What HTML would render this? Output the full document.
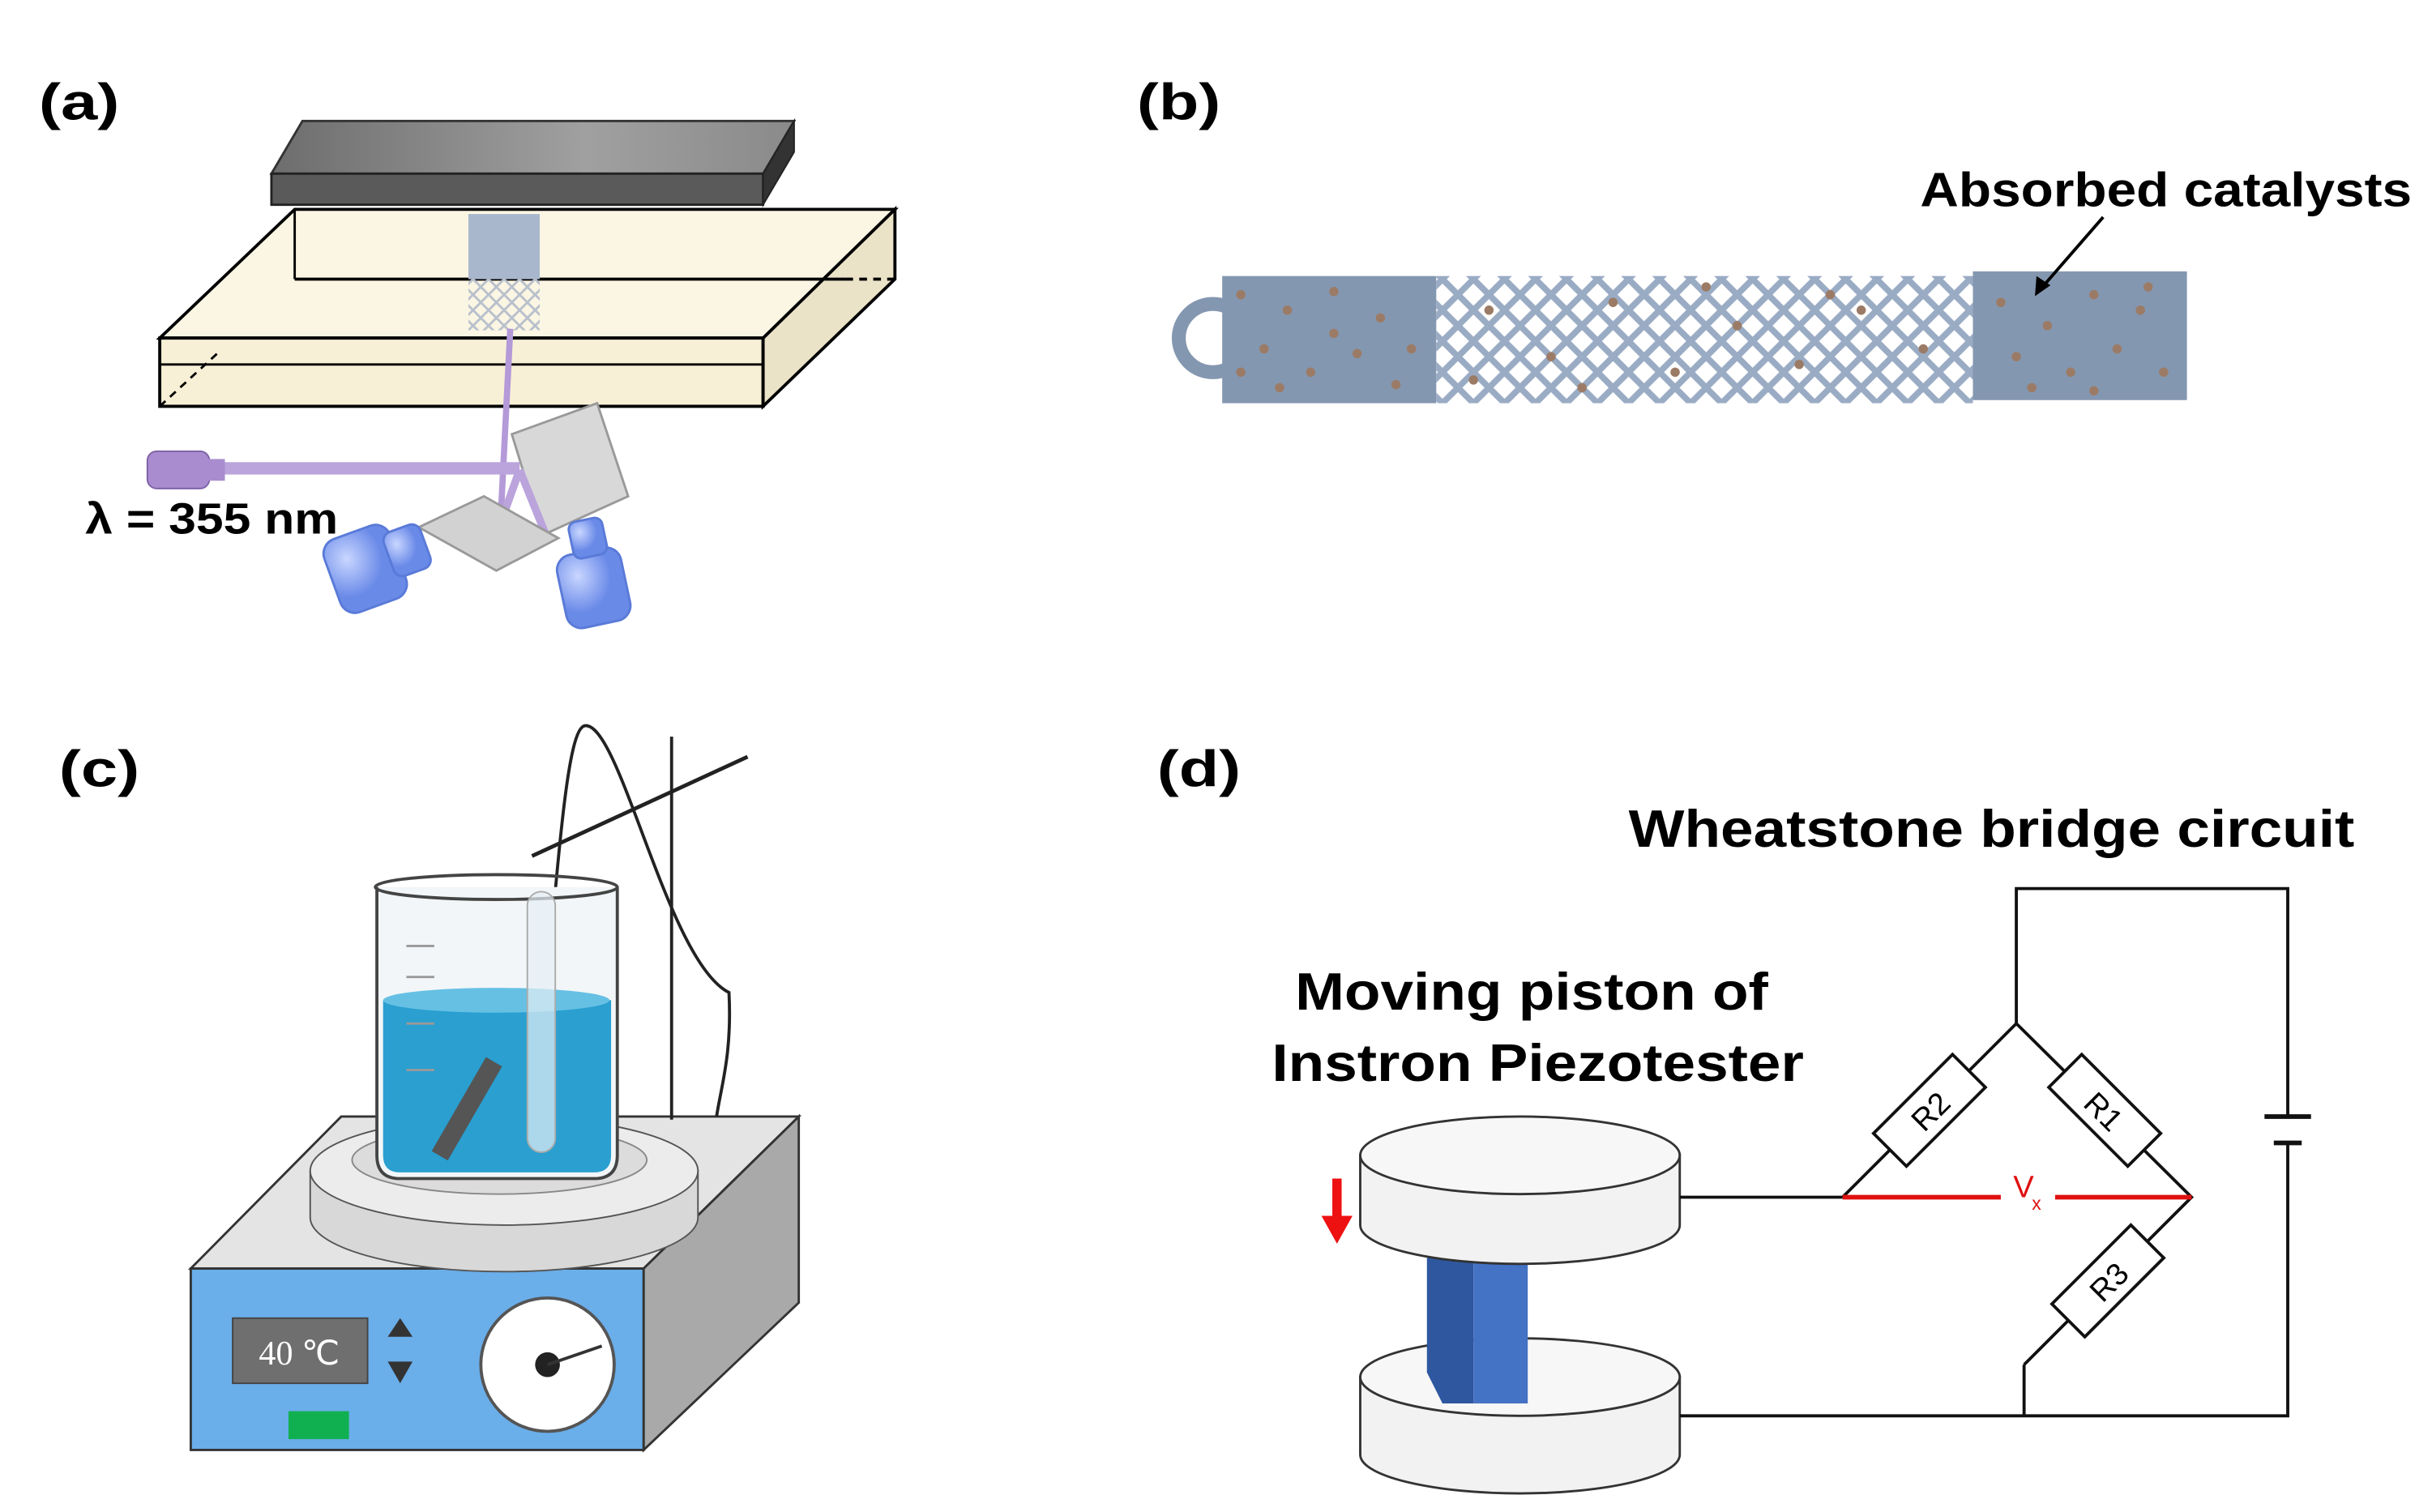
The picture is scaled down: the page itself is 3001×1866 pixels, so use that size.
<!DOCTYPE html>
<html><head><meta charset="utf-8"><style>
html,body{margin:0;padding:0;background:#fff}
svg{display:block}
text{font-family:"Liberation Sans",sans-serif;font-weight:bold}
</style></head><body>
<svg width="3001" height="1866" viewBox="0 0 1568 975" preserveAspectRatio="none" xmlns="http://www.w3.org/2000/svg">
<defs>
<linearGradient id="pg" x1="0" x2="1"><stop offset="0" stop-color="#6d6d6d"/><stop offset="0.6" stop-color="#a0a0a0"/><stop offset="1" stop-color="#8a8a8a"/></linearGradient>
<pattern id="mesh" width="20" height="20" patternUnits="userSpaceOnUse">
<path d="M0 10 L10 0 L20 10 L10 20 Z" fill="none" stroke="#9aabc4" stroke-width="4"/></pattern>
<pattern id="mesh2" width="10" height="10" patternUnits="userSpaceOnUse">
<path d="M0 5 L5 0 L10 5 L5 10 Z" fill="none" stroke="#b8c0cc" stroke-width="1.5"/></pattern>
<radialGradient id="bl" cx="0.3" cy="0.3"><stop offset="0" stop-color="#c9d6ff"/><stop offset="1" stop-color="#6a8ae8"/></radialGradient>
</defs>
<!-- (a) -->
<text x="25" y="77" font-size="33" textLength="52" lengthAdjust="spacingAndGlyphs">(a)</text>
<polygon points="103,218 190,135 577,135 492,218" fill="#fbf6e3" stroke="#000" stroke-width="2"/>
<polygon points="103,218 492,218 492,262 103,262" fill="#f8f0d6" stroke="#000" stroke-width="2"/>
<polygon points="492,218 577,135 577,180 492,262" fill="#ebe3c8" stroke="#000" stroke-width="2"/>
<line x1="190" y1="180" x2="545" y2="180" stroke="#000" stroke-width="2"/>
<line x1="545" y1="180" x2="577" y2="180" stroke="#000" stroke-width="2" stroke-dasharray="5,4"/>
<line x1="103" y1="235" x2="492" y2="235" stroke="#000" stroke-width="1.5"/>
<line x1="103" y1="262" x2="140" y2="228" stroke="#000" stroke-width="1.5" stroke-dasharray="5,4"/>
<line x1="190" y1="135" x2="190" y2="180" stroke="#000" stroke-width="1.5"/>
<rect x="302" y="138" width="46" height="42" fill="#a9b7cc"/>
<rect x="302" y="180" width="46" height="33" fill="url(#mesh2)"/>
<polygon points="195,78 512,78 492,112 175,112" fill="url(#pg)" stroke="#333" stroke-width="1.5"/>
<polygon points="175,112 492,112 492,132 175,132" fill="#5a5a5a" stroke="#222" stroke-width="1.5"/>
<polygon points="492,112 512,78 512,98 492,132" fill="#333" stroke="#222" stroke-width="1"/>
<line x1="329" y1="212" x2="322" y2="350" stroke="#b49ad8" stroke-width="4"/>
<polygon points="330,280 385,260 405,320 350,345" fill="#d8d8d8" stroke="#999" stroke-width="1.5"/>
<rect x="95" y="291" width="40" height="24" rx="6" fill="#a98ccf" stroke="#7d62a8"/>
<rect x="133" y="296" width="12" height="14" fill="#a98ccf"/>
<rect x="145" y="298" width="190" height="8" fill="#bba4dc"/>
<line x1="335" y1="303" x2="320" y2="345" stroke="#bba4dc" stroke-width="5"/>
<line x1="335" y1="303" x2="352" y2="345" stroke="#bba4dc" stroke-width="5"/>
<polygon points="270,340 312,320 360,347 320,368" fill="#d2d2d2" stroke="#999" stroke-width="1.5"/>
<g fill="url(#bl)" stroke="#5a7ad8" stroke-width="1.5">
<rect x="213" y="342" width="45" height="50" rx="10" transform="rotate(-20 235 367)"/>
<rect x="250" y="340" width="25" height="30" rx="6" transform="rotate(-20 262 355)"/>
<rect x="362" y="355" width="42" height="48" rx="10" transform="rotate(-12 383 380)"/>
<rect x="368" y="335" width="22" height="24" rx="5" transform="rotate(-12 379 347)"/>
</g>
<text x="55" y="344" font-size="28" textLength="163" lengthAdjust="spacingAndGlyphs">λ = 355 nm</text>
<!-- (b) -->
<text x="733" y="77" font-size="33" textLength="54" lengthAdjust="spacingAndGlyphs">(b)</text>
<text x="1238" y="133" font-size="31" textLength="317" lengthAdjust="spacingAndGlyphs">Absorbed catalysts</text>
<circle cx="782" cy="218" r="22" fill="none" stroke="#8497b0" stroke-width="9"/>
<rect x="788" y="178" width="138" height="82" fill="#8497b0"/>
<rect x="926" y="178" width="346" height="82" fill="url(#mesh)"/>
<rect x="1272" y="175" width="138" height="83" fill="#8497b0"/>
<g fill="#9c7b66">
<circle cx="800" cy="190" r="3"/><circle cx="830" cy="200" r="3"/><circle cx="860" cy="188" r="3"/><circle cx="890" cy="205" r="3"/><circle cx="910" cy="225" r="3"/><circle cx="815" cy="225" r="3"/><circle cx="845" cy="240" r="3"/><circle cx="875" cy="228" r="3"/><circle cx="900" cy="248" r="3"/><circle cx="825" cy="250" r="3"/><circle cx="860" cy="215" r="3"/><circle cx="800" cy="240" r="3"/>
<circle cx="1290" cy="195" r="3"/><circle cx="1320" cy="210" r="3"/><circle cx="1350" cy="190" r="3"/><circle cx="1380" cy="200" r="3"/><circle cx="1300" cy="230" r="3"/><circle cx="1335" cy="240" r="3"/><circle cx="1365" cy="225" r="3"/><circle cx="1395" cy="240" r="3"/><circle cx="1310" cy="250" r="3"/><circle cx="1385" cy="185" r="3"/><circle cx="1350" cy="252" r="3"/>
<circle cx="960" cy="200" r="3"/><circle cx="1000" cy="230" r="3"/><circle cx="1040" cy="195" r="3"/><circle cx="1080" cy="240" r="3"/><circle cx="1120" cy="210" r="3"/><circle cx="1160" cy="235" r="3"/><circle cx="1200" cy="200" r="3"/><circle cx="1240" cy="225" r="3"/><circle cx="950" cy="245" r="3"/><circle cx="1100" cy="185" r="3"/><circle cx="1180" cy="190" r="3"/><circle cx="1020" cy="250" r="3"/>
</g>
<line x1="1356" y1="140" x2="1316" y2="186" stroke="#000" stroke-width="2"/>
<polygon points="1312,191 1313,178 1322,184" fill="#000"/>
<!-- (c) -->
<text x="38" y="507" font-size="33" textLength="52" lengthAdjust="spacingAndGlyphs">(c)</text>
<polygon points="123,818 220,720 515,720 415,818" fill="#e4e4e4" stroke="#333" stroke-width="1.5"/>
<polygon points="123,818 415,818 415,935 123,935" fill="#6aaeea" stroke="#333" stroke-width="1.5"/>
<polygon points="415,818 515,720 515,840 415,935" fill="#a9a9a9" stroke="#333" stroke-width="1.5"/>
<rect x="150" y="850" width="87" height="42" fill="#6f6f6f" stroke="#444"/>
<text x="193" y="880" font-size="22" fill="#fff" text-anchor="middle" style="font-family:'Liberation Serif',serif;font-weight:normal">40 ℃</text>
<polygon points="258,850 250,862 266,862" fill="#333"/><polygon points="258,892 250,878 266,878" fill="#333"/>
<rect x="186" y="910" width="39" height="18" fill="#10b050"/>
<circle cx="353" cy="880" r="43" fill="#fff" stroke="#555" stroke-width="2"/>
<circle cx="353" cy="880" r="8" fill="#222"/><line x1="353" y1="880" x2="388" y2="868" stroke="#333" stroke-width="2"/>
<path d="M200,755 L200,785 A125,35 0 0 0 450,785 L450,755 Z" fill="#d8d8d8" stroke="#555"/>
<ellipse cx="325" cy="755" rx="125" ry="35" fill="#ececec" stroke="#555"/>
<ellipse cx="322" cy="748" rx="95" ry="22" fill="#dcdcdc" stroke="#888"/>
<line x1="433" y1="475" x2="433" y2="722" stroke="#222" stroke-width="2"/>
<line x1="343" y1="552" x2="482" y2="488" stroke="#222" stroke-width="2.5"/>
<path d="M350,660 C360,560 365,470 377,468 C400,465 430,620 470,640 C472,680 465,700 462,720" fill="none" stroke="#222" stroke-width="2"/>
<path d="M243,572 L243,745 Q243,760 258,760 L383,760 Q398,760 398,745 L398,572" fill="#f2f6f8" stroke="#444" stroke-width="2"/>
<ellipse cx="320" cy="572" rx="78" ry="8" fill="none" stroke="#444" stroke-width="2"/>
<path d="M247,645 L394,645 L394,745 Q394,756 383,756 L258,756 Q247,756 247,745 Z" fill="#2a9fd0"/>
<ellipse cx="320" cy="645" rx="73" ry="8" fill="#66c0e4"/>
<rect x="340" y="575" width="18" height="168" rx="9" fill="rgba(230,240,245,0.7)" stroke="#aaa"/>
<rect x="295" y="680" width="12" height="70" fill="#555" transform="rotate(30 301 715)"/>
<g stroke="#999" stroke-width="1.5"><line x1="262" y1="610" x2="280" y2="610"/><line x1="262" y1="630" x2="280" y2="630"/><line x1="262" y1="660" x2="280" y2="660"/><line x1="262" y1="690" x2="280" y2="690"/></g>
<!-- (d) -->
<text x="746" y="507" font-size="33" textLength="54" lengthAdjust="spacingAndGlyphs">(d)</text>
<text x="1050" y="546" font-size="34" textLength="468" lengthAdjust="spacingAndGlyphs">Wheatstone bridge circuit</text>
<text x="835" y="651" font-size="34" textLength="305" lengthAdjust="spacingAndGlyphs">Moving piston of</text>
<text x="820" y="697" font-size="34" textLength="343" lengthAdjust="spacingAndGlyphs">Instron Piezotester</text>
<path d="M877,888 L877,938 A103,25 0 0 0 1083,938 L1083,888 Z" fill="#f2f2f2" stroke="#333" stroke-width="1.5"/>
<ellipse cx="980" cy="888" rx="103" ry="25" fill="#f7f7f7" stroke="#333" stroke-width="1.5"/>
<polygon points="920,810 950,810 950,905 930,905 920,885" fill="#2e57a0"/>
<rect x="950" y="810" width="35" height="95" fill="#4472c4"/>
<path d="M877,745 L877,790 A103,25 0 0 0 1083,790 L1083,745 Z" fill="#f2f2f2" stroke="#333" stroke-width="1.5"/>
<ellipse cx="980" cy="745" rx="103" ry="25" fill="#f7f7f7" stroke="#333" stroke-width="1.5"/>
<line x1="862" y1="760" x2="862" y2="785" stroke="#ee1111" stroke-width="6"/>
<polygon points="852,784 872,784 862,802" fill="#ee1111"/>
<g fill="none" stroke="#111" stroke-width="2">
<polyline points="1300,660 1300,573 1475,573 1475,720"/>
<polyline points="1475,737 1475,913 1083,913"/>
<line x1="1305" y1="880" x2="1305" y2="913"/>
<line x1="1083" y1="772" x2="1188" y2="772"/>
<polyline points="1188,772 1300,660 1413,772 1305,880"/>
<line x1="1460" y1="720" x2="1490" y2="720" stroke-width="3"/>
<line x1="1466" y1="737" x2="1484" y2="737" stroke-width="3"/>
</g>
<line x1="1188" y1="772" x2="1290" y2="772" stroke="#e01010" stroke-width="3"/>
<line x1="1325" y1="772" x2="1413" y2="772" stroke="#e01010" stroke-width="3"/>
<text x="1298" y="772" font-size="20" fill="#e01010" style="font-weight:normal">V</text>
<text x="1310" y="780" font-size="12" fill="#e01010" style="font-weight:normal">x</text>
<g transform="translate(1244,716) rotate(-45)"><rect x="-36" y="-15" width="72" height="30" fill="#fff" stroke="#111" stroke-width="2"/><text x="0" y="8" font-size="20" text-anchor="middle" style="font-weight:normal">R2</text></g>
<g transform="translate(1357,716) rotate(45)"><rect x="-36" y="-15" width="72" height="30" fill="#fff" stroke="#111" stroke-width="2"/><text x="0" y="8" font-size="20" text-anchor="middle" style="font-weight:normal">R1</text></g>
<g transform="translate(1359,826) rotate(-45)"><rect x="-36" y="-15" width="72" height="30" fill="#fff" stroke="#111" stroke-width="2"/><text x="0" y="8" font-size="20" text-anchor="middle" style="font-weight:normal">R3</text></g>
</svg>
</body></html>
